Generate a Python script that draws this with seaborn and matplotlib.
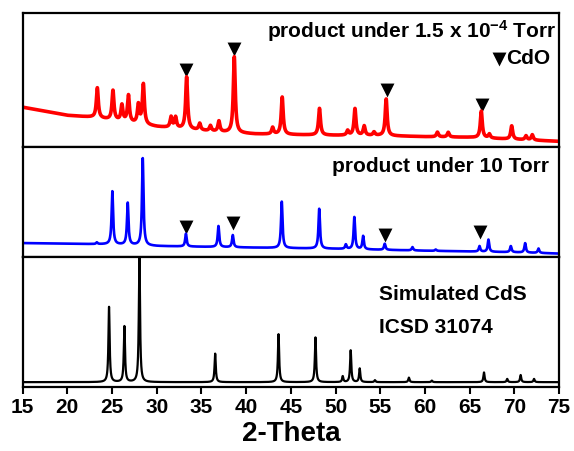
import numpy as np
import matplotlib
matplotlib.use('Agg')
import matplotlib.pyplot as plt
import seaborn as sns

sns.set_style('white')
plt.rcParams['font.family'] = ['Liberation Sans', 'DejaVu Sans']
plt.rcParams['font.weight'] = 'bold'
plt.rcParams['text.color'] = 'black'
plt.rcParams['axes.labelcolor'] = 'black'
plt.rcParams['xtick.color'] = 'black'
plt.rcParams['mathtext.fontset'] = 'custom'
plt.rcParams['mathtext.rm'] = 'Liberation Sans:bold'
plt.rcParams['mathtext.bf'] = 'Liberation Sans:bold'
plt.rcParams['mathtext.default'] = 'bf'

# peak lists (2-theta, height as fraction of panel)
# top panel: product under 1.5e-4 Torr
red_bg_pos = [15, 20, 22.7, 25, 30, 33, 37, 41, 45, 50, 55, 60, 65, 70, 75]
red_bg_val = [0.296, 0.235, 0.221, 0.20, 0.15, 0.133, 0.11, 0.095, 0.09, 0.085,
              0.083, 0.075, 0.07, 0.055, 0.04]
red_pos = [23.35, 25.1, 26.1, 26.83, 27.94, 28.5, 31.6, 32.1, 33.34, 34.8, 36.0,
           36.95, 38.67, 42.96, 44.03, 48.2, 51.35, 52.17, 53.2, 54.3, 55.66,
           61.39, 62.6, 66.3, 67.2, 69.7, 71.3, 72.0]
red_amp = [0.225, 0.22, 0.12, 0.20, 0.14, 0.30, 0.08, 0.08, 0.39, 0.05, 0.04,
           0.08, 0.57, 0.05, 0.28, 0.20, 0.035, 0.20, 0.07, 0.025, 0.275,
           0.035, 0.035, 0.20, 0.03, 0.10, 0.03, 0.04]

# middle panel: product under 10 Torr
blue_bg_pos = [15, 25, 30, 40, 50, 60, 70, 75]
blue_bg_val = [0.127, 0.115, 0.10, 0.087, 0.075, 0.058, 0.044, 0.032]
blue_pos = [23.3, 25.03, 26.75, 28.43, 33.26, 36.9, 38.5, 43.98, 48.17, 51.15,
            52.1, 53.08, 55.5, 58.6, 61.2, 66.1, 67.1, 69.6, 71.2, 72.7]
blue_amp = [0.015, 0.48, 0.38, 0.79, 0.115, 0.19, 0.11, 0.42, 0.36, 0.04,
            0.29, 0.12, 0.055, 0.03, 0.012, 0.05, 0.11, 0.055, 0.085, 0.04]

# bottom panel: simulated CdS, ICSD 31074
sim_base = 0.035
sim_pos = [24.66, 26.38, 28.06, 36.53, 43.62, 47.75, 50.8, 51.69, 52.7, 54.4,
           58.2, 60.77, 66.6, 69.2, 70.7, 72.2]
sim_amp = [0.58, 0.43, 0.975, 0.22, 0.37, 0.345, 0.045, 0.245, 0.105, 0.015,
           0.035, 0.012, 0.075, 0.025, 0.055, 0.025]

# CdO reflections marked with triangles (2-theta, marker height)
cdo_top_pos = [33.3, 38.65, 55.7, 66.4]
cdo_top_y = [0.573, 0.736, 0.422, 0.309]
cdo_mid_pos = [33.26, 38.5, 55.5, 66.1]
cdo_mid_y = [0.273, 0.309, 0.197, 0.227]

xticks = list(range(15, 80, 5))


def pattern(tt, pos, amp, width, bg):
    """sum of lorentzian peaks on top of a background"""
    y = np.array(bg, dtype=float) * np.ones_like(tt)
    hw = width / 2.0
    for p, a in zip(pos, amp):
        y += a * hw ** 2 / ((tt - p) ** 2 + hw ** 2)
    return y


tt = np.arange(15, 75.005, 0.01)
red = pattern(tt, red_pos, red_amp, 0.26, np.interp(tt, red_bg_pos, red_bg_val))
blue = pattern(tt, blue_pos, blue_amp, 0.2, np.interp(tt, blue_bg_pos, blue_bg_val))
black = pattern(tt, sim_pos, sim_amp, 0.16, sim_base)

fig = plt.figure(figsize=(5.74, 4.51), dpi=100)
gs = fig.add_gridspec(3, 1, height_ratios=[133.5, 110.5, 129.7], hspace=0,
                      left=0.0395, right=0.974, top=0.9705, bottom=0.1426)
axes = [fig.add_subplot(gs[i]) for i in range(3)]

sns.lineplot(x=tt, y=red, ax=axes[0], color='#ff0000', lw=2.6)
sns.lineplot(x=tt, y=blue, ax=axes[1], color='#0000ff', lw=1.9)
sns.lineplot(x=tt, y=black, ax=axes[2], color='black', lw=1.6)

for ax in axes:
    ax.set_xlim(15, 75)
    ax.set_ylim(0, 1)
    ax.set_yticks([])
    ax.set_ylabel('')
    for sp in ax.spines.values():
        sp.set_linewidth(1.6)
        sp.set_color('black')

# triangles
sns.scatterplot(x=cdo_top_pos, y=cdo_top_y, ax=axes[0], marker='v', s=100,
                color='black', linewidth=0)
sns.scatterplot(x=cdo_mid_pos, y=cdo_mid_y, ax=axes[1], marker='v', s=100,
                color='black', linewidth=0)
axes[0].scatter([68.3], [0.658], marker='v', s=100, color='black', linewidth=0)

# labels
axes[0].text(0.995, 0.867, r'product under 1.5 x 10$^{-4}$ Torr',
             transform=axes[0].transAxes, ha='right', va='center',
             fontsize=15, fontweight='bold')
axes[0].text(69.1, 0.658, 'CdO', ha='left', va='center', fontsize=15,
             fontweight='bold')
axes[1].text(0.981, 0.82, 'product under 10 Torr', transform=axes[1].transAxes,
             ha='right', va='center', fontsize=15, fontweight='bold')
axes[2].text(54.85, 0.71, 'Simulated CdS', ha='left', va='center', fontsize=15,
             fontweight='bold')
axes[2].text(54.85, 0.46, 'ICSD 31074', ha='left', va='center', fontsize=15,
             fontweight='bold')

for ax in axes[:2]:
    ax.set_xticks([])
axes[2].set_xticks(xticks)
axes[2].set_xticklabels([str(t) for t in xticks], fontsize=15, fontweight='bold')
axes[2].tick_params(axis='x', bottom=True, direction='out', length=5, width=1.5,
                    pad=3, colors='black')
axes[2].set_xlabel('2-Theta', fontsize=20, fontweight='bold', labelpad=3)

fig.savefig('out.png', dpi=100)
plt.close(fig)
